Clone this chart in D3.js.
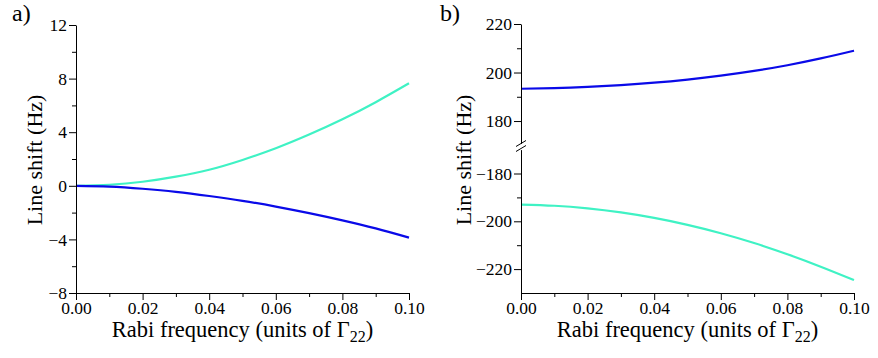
<!DOCTYPE html>
<html><head><meta charset="utf-8">
<script src="https://cdn.jsdelivr.net/npm/d3@7"></script>
</head><body style="margin:0;background:#fff"><svg id="c" width="878" height="358"></svg>
<script>
const rabi = [0,0.01,0.02,0.03,0.04,0.05,0.06,0.07,0.08,0.09,0.10];
const aCyan = [0,0.08,0.3,0.68,1.2,1.93,2.8,3.82,4.96,6.24,7.65];
const aBlue = [0,-0.06,-0.22,-0.45,-0.76,-1.12,-1.55,-2.04,-2.58,-3.18,-3.87];
const bBlue = [193.3,193.55,194.05,194.8,195.8,197.1,198.7,200.65,203.0,205.8,209.0];
const bCyan = [-193.0,-193.5,-194.6,-196.3,-198.6,-201.5,-205.0,-209.1,-213.8,-219.0,-224.6];
const xTicks = [0,0.02,0.04,0.06,0.08,0.10];
const xMinor = [0.01,0.03,0.05,0.07,0.09];
const aYTicks = [-8,-4,0,4,8,12];
const aYMinor = [-6,-2,2,6,10];
const bUpTicks = [180,200,220];
const bUpMinor = [190,210];
const bLoTicks = [-220,-200,-180];
const bLoMinor = [-210,-190];
const cyanCol = "#3ff2c4", blueCol = "#0a0ae8";
const FONT = "Liberation Serif";

const svg = d3.select("#c");
const fmtX = d3.format(".2f");
const smooth = d3.curveNatural;

function xAxis(g, x, y0){
  g.append("g").attr("transform",`translate(0,${y0})`)
   .call(d3.axisBottom(x).tickValues(xTicks).tickFormat(fmtX).tickSize(7).tickPadding(2).tickSizeOuter(0))
   .call(a=>a.selectAll("text").attr("font-size",17.5).style("font-family",FONT));
  g.append("g").attr("transform",`translate(0,${y0})`)
   .call(d3.axisBottom(x).tickValues(xMinor).tickFormat("").tickSize(4).tickSizeOuter(0))
   .call(a=>a.select(".domain").remove());
}
function yAxis(g, y, x0, ticks, minor, fmt){
  g.append("g").attr("transform",`translate(${x0},0)`)
   .call(d3.axisLeft(y).tickValues(ticks).tickFormat(fmt).tickSize(7).tickPadding(2).tickSizeOuter(0))
   .call(a=>a.selectAll("text").attr("font-size",17.5).style("font-family",FONT));
  g.append("g").attr("transform",`translate(${x0},0)`)
   .call(d3.axisLeft(y).tickValues(minor).tickFormat("").tickSize(4).tickSizeOuter(0))
   .call(a=>a.select(".domain").remove());
}
function xTitle(g, cx, yb){
  const t = g.append("text").attr("x",cx).attr("y",yb).attr("text-anchor","middle").attr("font-size",22.5).style("font-family",FONT);
  t.append("tspan").text("Rabi frequency (units of Γ");
  t.append("tspan").attr("font-size",16).attr("dy",5).text("22");
  t.append("tspan").attr("dy",-5).text(")");
}
function yTitle(g, xb, cy){
  g.append("text").attr("transform",`translate(${xb},${cy}) rotate(-90)`).attr("text-anchor","middle").attr("font-size",22).style("font-family",FONT).text("Line shift (Hz)");
}
function curve(g, x, y, vals, col){
  g.append("path").datum(rabi.map((r,i)=>[r,vals[i]]))
   .attr("fill","none").attr("stroke",col).attr("stroke-width",2.2)
   .attr("d", d3.line().x(d=>x(d[0])).y(d=>y(d[1])).curve(smooth));
}

// Panel a
{
  const g = svg.append("g");
  const x = d3.scaleLinear().domain([0,0.1]).range([76,409]);
  const y = d3.scaleLinear().domain([-8,12]).range([293,25]);
  curve(g,x,y,aCyan,cyanCol);
  curve(g,x,y,aBlue,blueCol);
  yAxis(g,y,76,aYTicks,aYMinor,d3.format("d"));
  xAxis(g,x,293);
  xTitle(g,242.5,337);
  yTitle(g,42,160);
  g.append("text").attr("x",12).attr("y",21).attr("font-size",24).style("font-family",FONT).text("a)");
}
// Panel b (broken axis)
{
  const g = svg.append("g");
  const x = d3.scaleLinear().domain([0,0.1]).range([521,854]);
  const yU = d3.scaleLinear().domain([170,220]).range([145.3,24]);
  const yL = d3.scaleLinear().domain([-230,-170]).range([293,149.6]);
  curve(g,x,yU,bBlue,blueCol);
  curve(g,x,yL,bCyan,cyanCol);
  yAxis(g,yU,521,bUpTicks,bUpMinor,d3.format("d"));
  yAxis(g,yL,521,bLoTicks,bLoMinor,d3.format("d"));
  g.append("rect").attr("x",519).attr("y",144).attr("width",4).attr("height",3).attr("fill","#fff");
  [143.5,148.5].forEach(yy=>{
    g.append("line").attr("x1",516).attr("x2",526).attr("y1",yy+3).attr("y2",yy-3)
     .attr("stroke","#000").attr("stroke-width",1);
  });
  xAxis(g,x,293);
  xTitle(g,687.5,337);
  yTitle(g,471,160);
  g.append("text").attr("x",440).attr("y",21).attr("font-size",24).style("font-family",FONT).text("b)");
}
</script></body></html>
